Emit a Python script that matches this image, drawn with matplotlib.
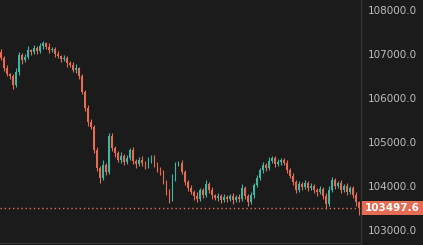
import matplotlib
matplotlib.use('Agg')
import matplotlib.pyplot as plt
import matplotlib.transforms as mtransforms
from matplotlib.patches import Rectangle

# Цены закрытия свечей (слева направо), открытие = предыдущее закрытие
first_open = 107050
closes = [
    106910, 106680, 106545, 106500, 106295, 106590, 106977, 106864, 106932, 107091,
    107045, 107136, 107068, 107182, 107250, 107159, 107091, 107114, 107000, 106955,
    106886, 106909, 106795, 106750, 106636, 106682, 106500, 106136, 105773, 105455,
    105341, 104818, 104409, 104182, 104477, 104318, 105136, 104864, 104750, 104591,
    104682, 104545, 104636, 104818, 104568, 104500, 104591, 104523, 104455, 104591,
    104659, 104477, 104409, 104318, 104091, 103864, 103705, 104182, 104500, 104523,
    104318, 104091, 103955, 103864, 103773, 103705, 103909, 103795, 104045, 103909,
    103795, 103727, 103773, 103682, 103750, 103705, 103773, 103682, 103750, 103705,
    103955, 103773, 103636, 103795, 104023, 104182, 104364, 104477, 104409, 104568,
    104636, 104500, 104545, 104591, 104523, 104364, 104227, 104091, 103909, 104045,
    103977, 104068, 103955, 104000, 103909, 103864, 103932, 103773, 103591, 103909,
    104136, 104000, 104068, 103909, 104000, 103864, 103955, 103795, 103636, 103497.6,
]
# Длина теней над и под телом свечи
wick_up = [
    60, 40, 80, 30, 50, 90, 70, 40, 60, 80, 30, 70, 50, 60, 40, 30, 80, 50, 40, 60,
    30, 70, 40, 50, 60, 90, 30, 50, 40, 60, 70, 40, 60, 50, 120, 40, 80, 60, 40, 50,
    90, 40, 60, 50, 70, 40, 60, 80, 40, 70, 50, 40, 60, 30, 50, 40, 60, 90, 50, 40,
    70, 40, 50, 60, 40, 80, 50, 40, 90, 40, 60, 30, 70, 40, 60, 50, 40, 70, 40, 60,
    80, 40, 50, 60, 40, 70, 50, 60, 40, 80, 50, 40, 60, 50, 40, 70, 40, 60, 50, 80,
    40, 60, 50, 70, 40, 50, 60, 40, 70, 90, 60, 40, 50, 60, 40, 70, 50, 40, 60, 30,
]
wick_dn = [
    40, 70, 50, 60, 90, 40, 60, 80, 40, 50, 70, 40, 60, 50, 70, 40, 60, 40, 70, 50,
    60, 40, 80, 50, 40, 60, 70, 40, 60, 80, 50, 70, 60, 110, 40, 70, 50, 60, 80, 40,
    60, 70, 50, 40, 60, 80, 40, 60, 70, 40, 60, 50, 80, 60, 50, 70, 90, 40, 60, 50,
    40, 70, 60, 50, 80, 60, 40, 70, 50, 60, 80, 40, 60, 70, 40, 60, 50, 80, 40, 60,
    50, 70, 90, 40, 60, 50, 40, 60, 70, 40, 50, 60, 40, 70, 50, 60, 40, 70, 60, 40,
    60, 50, 70, 40, 60, 80, 50, 60, 110, 40, 50, 60, 40, 70, 50, 60, 40, 70, 80, 150,
]
y_ticks = [103000, 104000, 105000, 106000, 107000, 108000]
last_price = 103497.6

bg = '#1b1b1b'
up_color = '#3db7a3'
down_color = '#e56c52'
text_color = '#bdbdbd'
line_color = '#333333'

fig = plt.figure(figsize=(4.23, 2.45), dpi=100, facecolor=bg)
ax = fig.add_axes([0, 2 / 245, 361 / 423, 243 / 245], facecolor=bg)

opens = [first_open] + closes[:-1]
for i, (o, c) in enumerate(zip(opens, closes)):
    color = up_color if c >= o else down_color
    lo, hi = min(o, c), max(o, c)
    ax.vlines(i, lo - wick_dn[i], hi + wick_up[i], color=color, linewidth=0.8)
    ax.bar(i, max(hi - lo, 15), bottom=lo, width=0.6, color=color, linewidth=0)

ax.set_xlim(-1 / 3, 120 - 1 / 3)
ax.set_ylim(102705, 108227)

# Пунктир по последней цене
ax.axhline(last_price, color=down_color, linestyle=(0, (1, 2)), linewidth=1)

ax.yaxis.tick_right()
ax.set_yticks(y_ticks)
ax.set_yticklabels([f"{t:.1f}" for t in y_ticks])
ax.tick_params(axis='y', length=0, pad=5, labelsize=7.5, labelcolor=text_color)
ax.set_xticks([])

for side in ['top', 'left']:
    ax.spines[side].set_visible(False)
for side in ['right', 'bottom']:
    ax.spines[side].set_color(line_color)
    ax.spines[side].set_linewidth(1)

# Метка последней цены
trans = mtransforms.blended_transform_factory(fig.transFigure, ax.transData)
box_h = 14 * (108227 - 102705) / 243
fig.add_artist(Rectangle((362 / 423, last_price - box_h / 2), 61 / 423, box_h,
                         transform=trans, facecolor=down_color, edgecolor='none'))
fig.text(392.5 / 423, last_price, f"{last_price:.1f}", transform=trans,
         ha='center', va='center', color='white', fontsize=7.5, fontweight='semibold')

fig.savefig('out.png', dpi=100, facecolor=bg)
